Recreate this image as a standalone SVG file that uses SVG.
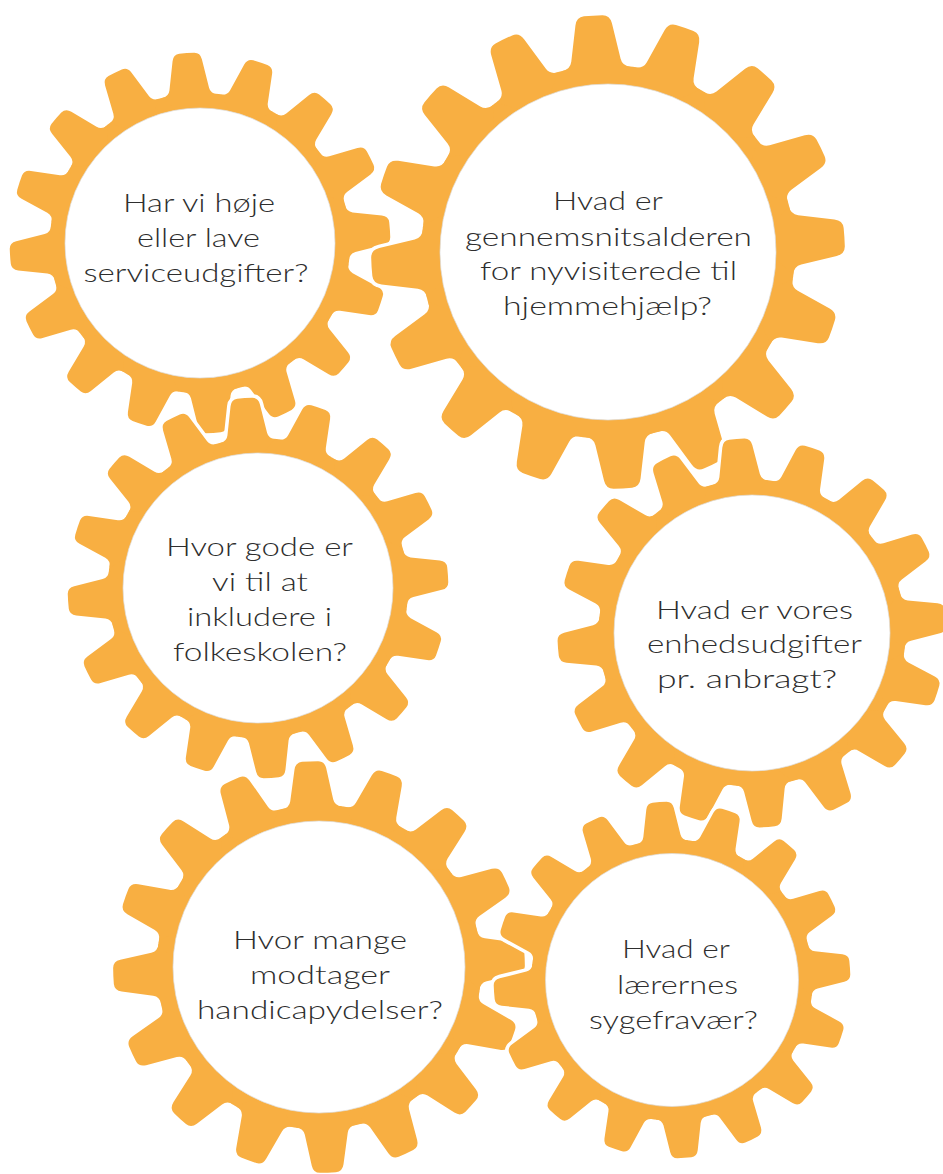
<svg xmlns="http://www.w3.org/2000/svg" width="943" height="1174" viewBox="0 0 943 1174">
<style>
.halo{fill:#fff;stroke:#fff;stroke-width:7;stroke-linejoin:round}
.cog{fill:#F8AF42}
.hub{fill:#fff;stroke:#dcdcdc;stroke-width:0.7}
.lbl{font-family:Lato,"Liberation Sans",sans-serif;font-weight:300;font-size:26px;fill:#2e2e2e;text-anchor:middle}
</style>
<defs>
<path id="tooth" vector-effect="non-scaling-stroke" d="M20.5 -109.09 Q15.5 -109.91 14.71 -114.34 L10.88 -135.73 Q10 -140.65 5.5 -140.89 A141 141 0 0 0 -5.5 -140.89 Q-10 -140.65 -10.88 -135.73 L-14.71 -114.34 Q-15.5 -109.91 -20.5 -109.09 L0 -90 Z"/>
<g id="gear">
<circle r="111.2" vector-effect="non-scaling-stroke"/>
<use href="#tooth"/>
<use href="#tooth" transform="rotate(22.5)"/>
<use href="#tooth" transform="rotate(45)"/>
<use href="#tooth" transform="rotate(67.5)"/>
<use href="#tooth" transform="rotate(90)"/>
<use href="#tooth" transform="rotate(112.5)"/>
<use href="#tooth" transform="rotate(135)"/>
<use href="#tooth" transform="rotate(157.5)"/>
<use href="#tooth" transform="rotate(180)"/>
<use href="#tooth" transform="rotate(202.5)"/>
<use href="#tooth" transform="rotate(225)"/>
<use href="#tooth" transform="rotate(247.5)"/>
<use href="#tooth" transform="rotate(270)"/>
<use href="#tooth" transform="rotate(292.5)"/>
<use href="#tooth" transform="rotate(315)"/>
<use href="#tooth" transform="rotate(337.5)"/>
</g>
</defs>
<rect width="943" height="1174" fill="#fff"/>

<g id="gear1">
<use href="#gear" class="halo" transform="translate(200 243) rotate(-4) scale(1.35)"/>
<use href="#gear" class="cog" transform="translate(200 243) rotate(-4) scale(1.35)"/>
<circle class="hub" cx="200" cy="243" r="135"/>
<text class="lbl"><tspan x="199" y="212" textLength="152" lengthAdjust="spacingAndGlyphs">Har vi høje</tspan><tspan x="198.5" y="247" textLength="123" lengthAdjust="spacingAndGlyphs">eller lave</tspan><tspan x="196" y="282" textLength="225" lengthAdjust="spacingAndGlyphs">serviceudgifter?</tspan></text>
</g>

<g id="gear2">
<use href="#gear" class="halo" transform="translate(608 252) rotate(-3.6) scale(1.68)"/>
<use href="#gear" class="cog" transform="translate(608 252) rotate(-3.6) scale(1.68)"/>
<circle class="hub" cx="608" cy="252" r="168"/>
<text class="lbl"><tspan x="608" y="210" textLength="110" lengthAdjust="spacingAndGlyphs">Hvad er</tspan><tspan x="608.5" y="246" textLength="287" lengthAdjust="spacingAndGlyphs">gennemsnitsalderen</tspan><tspan x="608.5" y="280" textLength="257" lengthAdjust="spacingAndGlyphs">for nyvisiterede til</tspan><tspan x="607.5" y="315" textLength="209" lengthAdjust="spacingAndGlyphs">hjemmehjælp?</tspan></text>
</g>

<g id="gear3">
<use href="#gear" class="halo" transform="translate(258 588) rotate(-4) scale(1.35)"/>
<use href="#gear" class="cog" transform="translate(258 588) rotate(-4) scale(1.35)"/>
<circle class="hub" cx="258" cy="588" r="135"/>
<text class="lbl"><tspan x="259.5" y="556" textLength="187" lengthAdjust="spacingAndGlyphs">Hvor gode er</tspan><tspan x="260" y="591" textLength="96" lengthAdjust="spacingAndGlyphs">vi til at</tspan><tspan x="259.5" y="626" textLength="145" lengthAdjust="spacingAndGlyphs">inkludere i</tspan><tspan x="260" y="661" textLength="174" lengthAdjust="spacingAndGlyphs">folkeskolen?</tspan></text>
</g>

<g id="gear4">
<use href="#gear" class="halo" transform="translate(752 633) rotate(-4.5) scale(1.38)"/>
<use href="#gear" class="cog" transform="translate(752 633) rotate(-4.5) scale(1.38)"/>
<circle class="hub" cx="752" cy="633" r="138"/>
<text class="lbl"><tspan x="754.5" y="619" textLength="197" lengthAdjust="spacingAndGlyphs">Hvad er vores</tspan><tspan x="754.5" y="653" textLength="215" lengthAdjust="spacingAndGlyphs">enhedsudgifter</tspan><tspan x="747" y="688" textLength="180" lengthAdjust="spacingAndGlyphs">pr. anbragt?</tspan></text>
</g>

<g id="gear5">
<use href="#gear" class="halo" transform="translate(319 967) rotate(-2.5) scale(1.46)"/>
<use href="#gear" class="cog" transform="translate(319 967) rotate(-2.5) scale(1.46)"/>
<circle class="hub" cx="319" cy="967" r="146"/>
<text class="lbl"><tspan x="320" y="949" textLength="174" lengthAdjust="spacingAndGlyphs">Hvor mange</tspan><tspan x="320" y="984" textLength="140" lengthAdjust="spacingAndGlyphs">modtager</tspan><tspan x="320" y="1019" textLength="246" lengthAdjust="spacingAndGlyphs">handicapydelser?</tspan></text>
</g>

<g id="gear6">
<use href="#gear" class="halo" transform="translate(672 980) rotate(-4) scale(1.265)"/>
<use href="#gear" class="cog" transform="translate(672 980) rotate(-4) scale(1.265)"/>
<circle class="hub" cx="672" cy="980" r="126.5"/>
<text class="lbl"><tspan x="676" y="958" textLength="108" lengthAdjust="spacingAndGlyphs">Hvad er</tspan><tspan x="677.5" y="994" textLength="121" lengthAdjust="spacingAndGlyphs">lærernes</tspan><tspan x="673.5" y="1029" textLength="169" lengthAdjust="spacingAndGlyphs">sygefravær?</tspan></text>
</g>
</svg>
